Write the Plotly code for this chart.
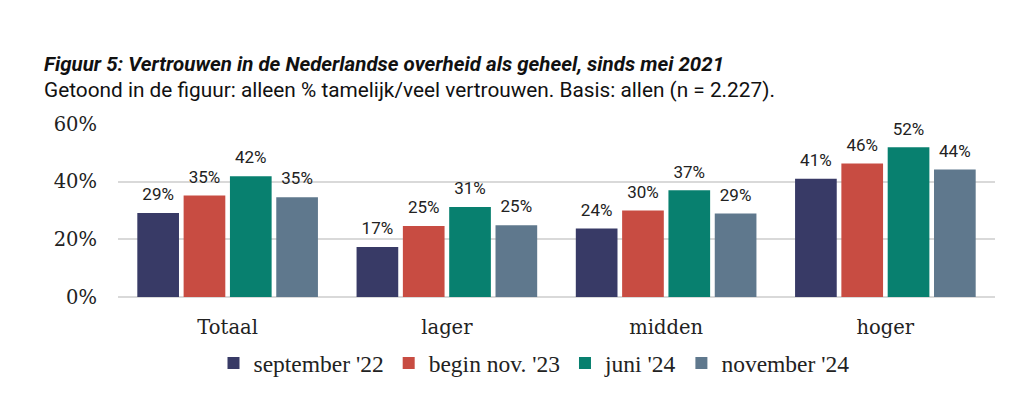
import plotly.graph_objects as go

categories = ["Totaal", "lager", "midden", "hoger"]
series_names = ["september '22", "begin nov. '23", "juni '24", "november '24"]
sep22 = [29.1, 17.3, 23.8, 41.0]
nov23 = [35.2, 24.6, 30.0, 46.3]
jun24 = [41.9, 31.2, 37.0, 51.9]
nov24 = [34.6, 24.9, 29.0, 44.2]
series_values = [sep22, nov23, jun24, nov24]
colors = ["#383a66", "#c84c42", "#08806f", "#5f788d"]
tick_vals = [0, 20, 40, 60]
tick_text = ["0%", "20%", "40%", "60%"]

title = "<b><i>Figuur 5: Vertrouwen in de Nederlandse overheid als geheel, sinds mei 2021</i></b>"
subtitle = "Getoond in de figuur: alleen % tamelijk/veel vertrouwen. Basis: allen (n = 2.227)."

# page body has an 8px margin, so the figure is laid out 8px in from the window
W, H = 1003, 389
ML, MT, MR, MB = 110, 116, 16, 98
pw = W - ML - MR
ph = H - MT - MB

fig = go.Figure()
for i, (name, vals, col) in enumerate(zip(series_names, series_values, colors)):
    fig.add_trace(go.Bar(
        x=categories, y=vals, name=name, marker_color=col,
        marker_line_width=0, offsetgroup=str(i),
    ))
for i, (name, vals) in enumerate(zip(series_names, series_values)):
    fig.add_trace(go.Scatter(
        x=categories, y=vals, mode="markers+text", offsetgroup=str(i),
        text=[f"{v:.0f}%" for v in vals], textposition="top center",
        textfont=dict(family="Roboto", size=17, color="#222222"),
        marker=dict(size=12, color="rgba(0,0,0,0)"),
        showlegend=False, hoverinfo="skip", cliponaxis=False,
    ))

fig.update_layout(
    width=W, height=H,
    margin=dict(l=ML, r=MR, t=MT, b=MB),
    paper_bgcolor="white", plot_bgcolor="white",
    barmode="group", scattermode="group",
    bargap=0.155, bargroupgap=0.1,
    showlegend=True,
    legend=dict(orientation="h", x=(534 - 8 - ML) / pw, xanchor="center",
                y=-(366 - 299) / ph, yanchor="middle",
                font=dict(family="Liberation Serif", size=23.5, color="#222222"),
                itemwidth=30, traceorder="normal"),
    xaxis=dict(showgrid=False, showline=False, ticks="", ticklabelstandoff=16,
               tickfont=dict(family="DejaVu Serif", size=19.5, color="#222222")),
    yaxis=dict(range=[0, 60], tickvals=tick_vals, ticktext=tick_text,
               showgrid=True, gridcolor="#d9d9d9", gridwidth=1.5,
               zeroline=True, zerolinecolor="#d9d9d9", zerolinewidth=1.5,
               ticklabelstandoff=20,
               tickfont=dict(family="DejaVu Serif", size=19.5, color="#222222")),
    annotations=[
        dict(text=title, x=(34 - ML) / pw, y=(291 - 55) / ph, xref="paper", yref="paper",
             xanchor="left", yanchor="middle", showarrow=False,
             font=dict(family="Roboto", size=20.5, color="#111111")),
        dict(text=subtitle, x=(34 - ML) / pw, y=(291 - 82) / ph, xref="paper", yref="paper",
             xanchor="left", yanchor="middle", showarrow=False,
             font=dict(family="Roboto", size=20.8, color="#111111")),
    ],
)

fig.write_html("out.html")
